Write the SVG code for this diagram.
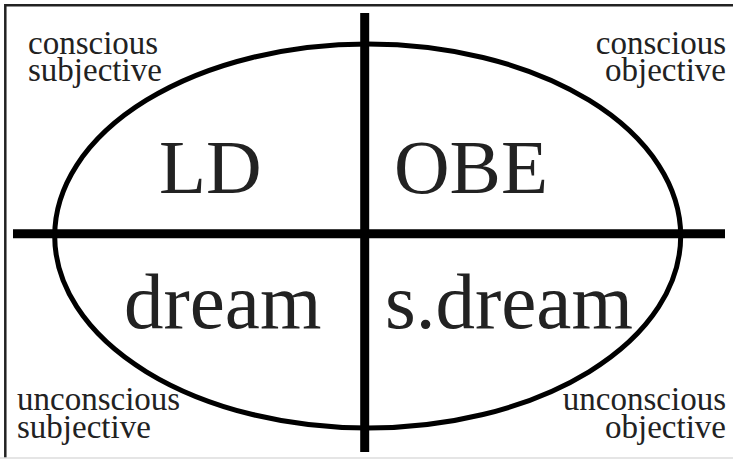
<svg xmlns="http://www.w3.org/2000/svg" width="733" height="460" viewBox="0 0 733 460">
<style>
.small{font-family:"Liberation Serif","Times New Roman",serif;font-size:33px;fill:#222}
.big{font-family:"Liberation Serif","Times New Roman",serif;font-size:77px;fill:#222}
.big2{font-family:"Liberation Serif","Times New Roman",serif;font-size:79px;fill:#222}
.frame{stroke:#222;stroke-width:2.5;fill:none}
.axis{stroke:#000;stroke-width:9;fill:none}
</style>
<rect width="733" height="460" fill="#fff"/>
<g id="frame">
<path class="frame" d="M5.3 458 V5.3 H733"/>
<line x1="0" y1="458" x2="733" y2="458" stroke="#ddd" stroke-width="1.5"/>
</g>
<g id="ellipse">
<ellipse cx="367.7" cy="236" rx="313" ry="192" fill="none" stroke="#000" stroke-width="5"/>
</g>
<g id="connectors">
<line class="axis" x1="364.7" y1="13" x2="364.7" y2="452"/>
<line class="axis" x1="13" y1="233.7" x2="725" y2="233.7"/>
</g>
<g id="conscious-subjective">
<text class="small" x="28" y="54">conscious</text>
<text class="small" x="28" y="81">subjective</text>
</g>
<g id="conscious-objective">
<text class="small" x="726" y="54" text-anchor="end">conscious</text>
<text class="small" x="726" y="81" text-anchor="end">objective</text>
</g>
<g id="unconscious-subjective">
<text class="small" x="17" y="410">unconscious</text>
<text class="small" x="17" y="438">subjective</text>
</g>
<g id="unconscious-objective">
<text class="small" x="726" y="410" text-anchor="end">unconscious</text>
<text class="small" x="726" y="438" text-anchor="end">objective</text>
</g>
<g id="LD"><text class="big" x="159" y="192.5">LD</text></g>
<g id="OBE"><text class="big" x="394" y="192.5">OBE</text></g>
<g id="dream"><text class="big2" x="124" y="328">dream</text></g>
<g id="sdream"><text class="big2" x="385" y="328">s.dream</text></g>
</svg>
